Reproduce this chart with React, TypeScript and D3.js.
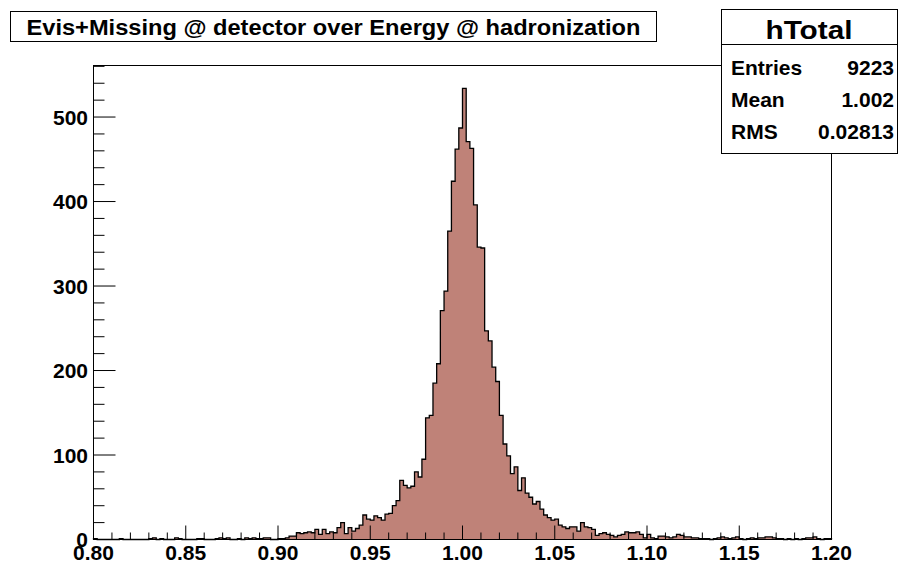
import React from "react";
import * as d3 from "d3";

// Histogram: 200 bins of width 0.002 from 0.80 to 1.20
const binLow = 0.8;
const binHigh = 1.2;
const counts: number[] = [
  // 0.800 - 0.840
  1, 0, 0, 0, 0, 0, 0, 1, 0, 0, 0, 0, 0, 0, 0, 1, 2, 0, 1, 0,
  // 0.840 - 0.880
  0, 0, 2, 1, 0, 0, 0, 0, 1, 1, 0, 0, 0, 1, 2, 1, 2, 0, 0, 1,
  // 0.880 - 0.920
  0, 2, 1, 2, 1, 1, 2, 2, 0, 0, 1, 1, 2, 4, 4, 8, 7, 8, 9, 8,
  // 0.920 - 0.960
  12, 6, 12, 7, 9, 8, 14, 20, 7, 14, 10, 13, 17, 29, 24, 23, 28, 26, 23, 30,
  // 0.960 - 1.000
  31, 40, 46, 70, 64, 61, 63, 80, 74, 95, 144, 147, 185, 208, 271, 294, 365, 424, 462, 487,
  // 1.000 - 1.040
  534, 471, 463, 396, 346, 345, 247, 235, 204, 187, 147, 113, 99, 78, 86, 58, 73, 55, 50, 42,
  // 1.040 - 1.080
  45, 36, 29, 26, 23, 24, 17, 15, 13, 15, 15, 10, 20, 15, 14, 12, 5, 7, 8, 6,
  // 1.080 - 1.120
  5, 3, 5, 6, 9, 8, 8, 9, 6, 2, 6, 2, 1, 4, 4, 3, 2, 3, 6, 5,
  // 1.120 - 1.160
  3, 3, 2, 2, 1, 1, 1, 0, 1, 2, 3, 2, 1, 2, 3, 1, 0, 1, 2, 1,
  // 1.160 - 1.200
  2, 2, 3, 3, 2, 1, 1, 0, 1, 0, 1, 0, 1, 2, 2, 3, 1, 0, 1, 1,
];

const xMajorTicks = [0.8, 0.85, 0.9, 0.95, 1.0, 1.05, 1.1, 1.15, 1.2];
const xTickLabels = ["0.80", "0.85", "0.90", "0.95", "1.00", "1.05", "1.10", "1.15", "1.20"];
const yMajorTicks = [0, 100, 200, 300, 400, 500];
const yTickLabels = ["0", "100", "200", "300", "400", "500"];
const yMax = 561;

const titleText = "Evis+Missing @ detector over Energy @ hadronization";
const statsName = "hTotal";
const statsLabels = ["Entries", "Mean", "RMS"];
const statsValues = ["9223", "1.002", "0.02813"];

const W = 903;
const H = 565;
const FONT = "'Liberation Sans', Arial, Helvetica, sans-serif";

export default function App() {
  const left = 93.5, right = 831.5, top = 65.5, bottom = 539.5;
  const x = d3.scaleLinear().domain([binLow, binHigh]).range([left, right]);
  const y = d3.scaleLinear().domain([0, yMax]).range([bottom, top]);
  const nb = counts.length;
  const bw = (binHigh - binLow) / nb;

  const pts: [number, number][] = [[binLow, 0]];
  counts.forEach((c, i) => pts.push([binLow + i * bw, c]));
  pts.push([binHigh, counts[nb - 1]]);
  pts.push([binHigh, 0]);

  const line = d3
    .line<[number, number]>()
    .x((d) => x(d[0]))
    .y((d) => y(d[1]))
    .curve(d3.curveStepAfter);
  const area = d3
    .area<[number, number]>()
    .x((d) => x(d[0]))
    .y0(y(0))
    .y1((d) => y(d[1]))
    .curve(d3.curveStepAfter);

  const xMinor = d3.range(0, 41).map((i) => binLow + i * 0.01);
  const yMinor = d3.range(0, yMax, 20);

  return (
    <svg
      width={W}
      height={H}
      style={{ position: "absolute", left: 0, top: 0, background: "#fff" }}
      fontFamily={FONT}
    >
      <rect x={0} y={0} width={W} height={H} fill="#fff" />
      {/* histogram */}
      <path d={area(pts) || ""} fill="#bf8278" stroke="none" />
      <path d={line(pts) || ""} fill="none" stroke="#000" strokeWidth={1.3} />

      {/* frame */}
      <rect x={left} y={top} width={right - left} height={bottom - top} fill="none" stroke="#000" strokeWidth={1} />

      {/* x ticks */}
      {xMinor.map((t, i) => {
        const major = i % 5 === 0;
        return (
          <line
            key={"xm" + i}
            x1={x(t)}
            x2={x(t)}
            y1={bottom}
            y2={bottom - (major ? 14 : 7)}
            stroke="#000"
            strokeWidth={1}
          />
        );
      })}
      {xMajorTicks.map((t, i) => (
        <text
          key={"xl" + i}
          x={x(t)}
          y={560}
          textAnchor="middle"
          fontSize={21}
          fontWeight="bold"
          fill="#000"
        >
          {xTickLabels[i]}
        </text>
      ))}

      {/* y ticks */}
      {yMinor.map((t, i) => {
        const major = t % 100 === 0;
        return (
          <line
            key={"ym" + i}
            x1={left}
            x2={left + (major ? 22 : 11)}
            y1={y(t)}
            y2={y(t)}
            stroke="#000"
            strokeWidth={1}
          />
        );
      })}
      {yMajorTicks.map((t, i) => (
        <text
          key={"yl" + i}
          x={88}
          y={y(t) + 7.5}
          textAnchor="end"
          fontSize={21}
          fontWeight="bold"
          fill="#000"
        >
          {yTickLabels[i]}
        </text>
      ))}

      {/* title box */}
      <rect x={10.5} y={11.5} width={646} height={30} fill="#fff" stroke="#000" strokeWidth={1} />
      <text
        x={333.5}
        y={34.5}
        textAnchor="middle"
        fontSize={22}
        fontWeight="bold"
        textLength={614}
        lengthAdjust="spacingAndGlyphs"
        fill="#000"
      >
        {titleText}
      </text>

      {/* stats box */}
      <rect x={721.5} y={9.5} width={176} height={144} fill="#fff" stroke="#000" strokeWidth={1} />
      <line x1={721.5} x2={897.5} y1={44.5} y2={44.5} stroke="#000" strokeWidth={1} />
      <text
        x={809}
        y={39}
        textAnchor="middle"
        fontSize={25}
        fontWeight="bold"
        textLength={87}
        lengthAdjust="spacingAndGlyphs"
        fill="#000"
      >
        {statsName}
      </text>
      {statsLabels.map((lab, i) => (
        <g key={"st" + i}>
          <text x={731} y={75 + i * 32} fontSize={21} fontWeight="bold" fill="#000">
            {lab}
          </text>
          <text x={894} y={75 + i * 32} textAnchor="end" fontSize={21} fontWeight="bold" fill="#000">
            {statsValues[i]}
          </text>
        </g>
      ))}
    </svg>
  );
}
